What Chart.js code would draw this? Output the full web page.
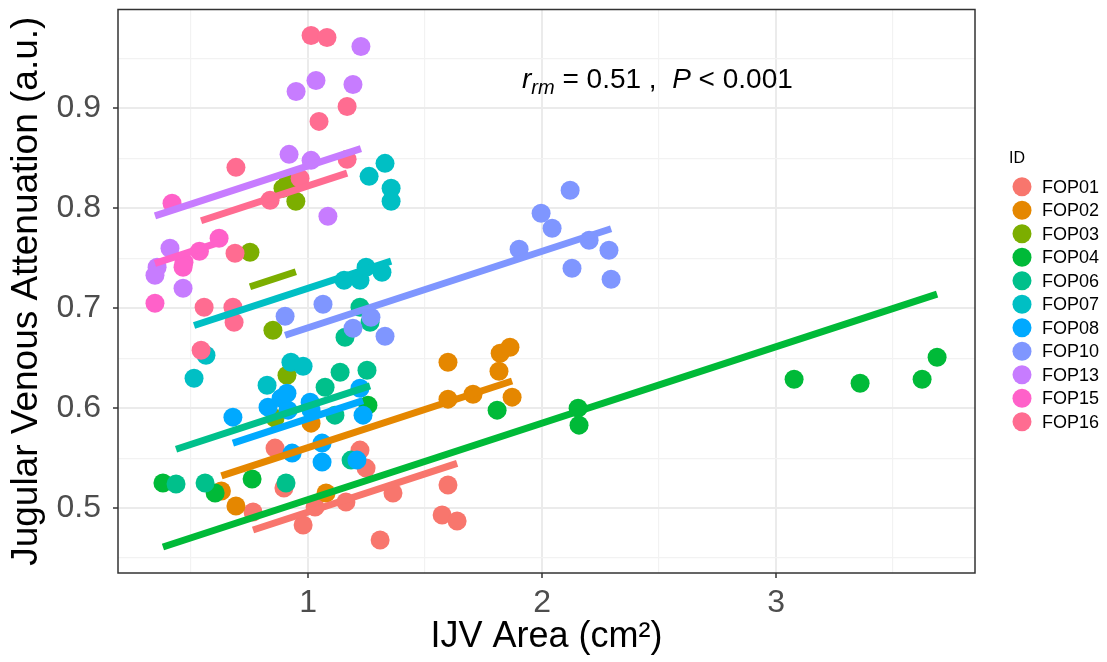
<!DOCTYPE html>
<html>
<head>
<meta charset="utf-8">
<script src="https://cdn.jsdelivr.net/npm/chart.js@4.4.1/dist/chart.umd.min.js"></script>
<style>
  html, body { margin: 0; padding: 0; background: #fff; }
</style>
</head>
<body>
<canvas id="chart" width="1107" height="662"></canvas>
<script>
// subjects and their colours
const ids = ["FOP01", "FOP02", "FOP03", "FOP04", "FOP06", "FOP07", "FOP08", "FOP10", "FOP13", "FOP15", "FOP16"];
const palette = ["#F8766D", "#E58700", "#7CAE00", "#00BA38", "#00C08B", "#00BFC4", "#00A9FF", "#7F96FF", "#C77CFF", "#FF61C9", "#FF6C91"];

// [IJV area (cm²), attenuation (a.u.)] per subject
const fop01 = [[0.859, 0.560], [0.897, 0.520], [0.765, 0.496], [0.979, 0.483], [1.030, 0.501], [1.162, 0.506], [1.222, 0.558], [1.248, 0.540], [1.363, 0.515], [1.308, 0.468], [1.598, 0.523], [1.573, 0.493], [1.637, 0.487]];
const fop02 = [[0.630, 0.517], [0.692, 0.502], [1.013, 0.585], [1.077, 0.515], [1.598, 0.646], [1.821, 0.655], [1.863, 0.661], [1.816, 0.637], [1.872, 0.611], [1.598, 0.609], [1.705, 0.614]];
const fop03 = [[0.893, 0.820], [0.915, 0.826], [0.948, 0.807], [0.752, 0.756], [0.850, 0.678], [0.910, 0.633], [0.859, 0.590]];
const fop04 = [[0.380, 0.525], [0.603, 0.515], [0.761, 0.529], [1.256, 0.603], [1.808, 0.598], [2.154, 0.600], [2.158, 0.583], [3.077, 0.629], [3.359, 0.625], [3.624, 0.629], [3.688, 0.651]];
const fop06 = [[0.436, 0.524], [0.560, 0.525], [0.906, 0.525], [1.184, 0.548], [1.222, 0.701], [1.158, 0.671], [1.265, 0.686], [1.137, 0.636], [1.252, 0.638], [1.073, 0.621], [1.115, 0.593]];
const fop07 = [[1.329, 0.845], [1.261, 0.832], [1.355, 0.820], [1.355, 0.807], [1.154, 0.728], [1.222, 0.728], [1.248, 0.741], [1.316, 0.736], [0.564, 0.653], [0.513, 0.630], [0.927, 0.646], [0.979, 0.642], [0.825, 0.623]];
const fop08 = [[0.679, 0.591], [0.829, 0.601], [0.885, 0.610], [0.915, 0.598], [0.910, 0.615], [1.009, 0.606], [1.013, 0.598], [1.222, 0.620], [1.235, 0.593], [1.060, 0.565], [0.932, 0.555], [1.060, 0.546], [1.209, 0.548]];
const fop10 = [[0.902, 0.692], [1.064, 0.704], [1.192, 0.680], [1.269, 0.691], [1.329, 0.672], [1.996, 0.795], [2.043, 0.780], [2.120, 0.818], [1.902, 0.759], [2.201, 0.768], [2.286, 0.758], [2.128, 0.740], [2.295, 0.729]];
const fop13 = [[1.226, 0.962], [1.034, 0.928], [0.949, 0.917], [1.192, 0.924], [0.919, 0.854], [1.013, 0.848], [1.085, 0.792], [0.410, 0.760], [0.355, 0.741], [0.346, 0.733], [0.466, 0.720]];
const fop15 = [[0.419, 0.805], [0.620, 0.770], [0.536, 0.757], [0.470, 0.746], [0.466, 0.741], [0.346, 0.705]];
const fop16 = [[1.013, 0.973], [1.081, 0.971], [1.167, 0.902], [1.047, 0.887], [1.167, 0.849], [0.692, 0.841], [0.966, 0.830], [0.838, 0.808], [0.688, 0.755], [0.556, 0.701], [0.679, 0.701], [0.684, 0.686], [0.543, 0.658]];
const subjects = [fop01, fop02, fop03, fop04, fop06, fop07, fop08, fop10, fop13, fop15, fop16];

// repeated-measures fit: one shared slope, an intercept per subject
const rmSlope = 0.0765;
const intercepts = [0.4195, 0.484, 0.664, 0.432, 0.5255, 0.6435, 0.513, 0.604, 0.766, 0.7185, 0.746];

// axes
const xTicks = [0.5, 1, 1.5, 2, 2.5, 3, 3.5];
const yTicks = [0.45, 0.5, 0.55, 0.6, 0.65, 0.7, 0.75, 0.8, 0.85, 0.9, 0.95];

const FONT = "'Liberation Sans', Arial, Helvetica, sans-serif";
const isMajorX = (v) => Math.abs(v - Math.round(v)) < 1e-6;
const isMajorY = (v) => Math.round(v * 100) % 10 === 0;

const pointSets = subjects.map((pts, i) => ({
	label: ids[i],
	data: pts.map(([x, y]) => ({ x, y })),
	backgroundColor: palette[i],
	borderWidth: 0,
	pointRadius: 9.5,
	pointHoverRadius: 9.5,
	order: 100 - i,
}));

const fitSets = subjects.map((pts, i) => {
	const xs = pts.map((p) => p[0]);
	const x0 = Math.min(...xs);
	const x1 = Math.max(...xs);
	return {
		label: ids[i] + " fit",
		data: [x0, x1].map((x) => ({ x, y: intercepts[i] + rmSlope * x })),
		showLine: true,
		borderColor: palette[i],
		borderWidth: 7,
		borderCapStyle: "butt",
		pointRadius: 0,
		order: 20 - i,
	};
});

// panel border, r_rm label and the ID legend
const decorations = {
	id: "decorations",
	afterDatasetsDraw(chart) {
		const { ctx, chartArea: a } = chart;
		ctx.save();
		ctx.strokeStyle = "#333333";
		ctx.lineWidth = 1.5;
		ctx.strokeRect(a.left, a.top, a.right - a.left, a.bottom - a.top);

		// r_rm = 0.51 , P < 0.001
		let x = 522;
		const base = 88;
		ctx.fillStyle = "#000";
		ctx.textBaseline = "alphabetic";
		ctx.textAlign = "left";
		const put = (txt, font, dy = 0) => {
			ctx.font = font;
			ctx.fillText(txt, x, base + dy);
			x += ctx.measureText(txt).width;
		};
		put("r", "italic 28px " + FONT);
		put("rm", "italic 20px " + FONT, 6);
		put(" = 0.51 ,  ", "28px " + FONT);
		put("P", "italic 28px " + FONT);
		put(" < 0.001", "28px " + FONT);

		// legend
		ctx.font = "16px " + FONT;
		ctx.textBaseline = "middle";
		ctx.fillText("ID", 1009, 159);
		ctx.font = "18px " + FONT;
		ids.forEach((id, i) => {
			const cy = 186.7 + i * 23.5;
			ctx.beginPath();
			ctx.arc(1022, cy, 9.5, 0, Math.PI * 2);
			ctx.fillStyle = palette[i];
			ctx.fill();
			ctx.fillStyle = "#000";
			ctx.fillText(id, 1042, cy + 1);
		});
		ctx.restore();
	},
};

const gridColor = (major) => (major ? "#EBEBEB" : "#F2F2F2");

new Chart(document.getElementById("chart").getContext("2d"), {
	type: "scatter",
	data: { datasets: [...fitSets, ...pointSets] },
	options: {
		responsive: false,
		animation: false,
		layout: { padding: { top: 8, right: 132, left: 0, bottom: 0 } },
		plugins: {
			legend: { display: false },
			tooltip: { enabled: false },
		},
		scales: {
			x: {
				type: "linear",
				min: 0.188,
				max: 3.85,
				afterBuildTicks: (s) => {
					s.ticks = xTicks.map((v) => ({ value: v }));
				},
				afterFit: (s) => {
					s.height = 89;
					s.paddingLeft = 0;
					s.paddingRight = 0;
				},
				ticks: {
					autoSkip: false,
					maxRotation: 0,
					padding: 6,
					color: "#4D4D4D",
					font: { family: FONT, size: 32 },
					callback: (v) => (isMajorX(v) ? String(v) : ""),
				},
				grid: {
					color: (c) => gridColor(isMajorX(c.tick.value)),
					lineWidth: (c) => (isMajorX(c.tick.value) ? 2 : 1.2),
					tickColor: (c) => (isMajorX(c.tick.value) ? "#333333" : "rgba(0,0,0,0)"),
					tickLength: 5,
					tickWidth: 1.5,
				},
				border: { display: false },
				title: {
					display: true,
					text: "IJV Area (cm²)",
					color: "#000",
					font: { family: FONT, size: 36 },
					padding: { top: 0, bottom: 3 },
				},
			},
			y: {
				type: "linear",
				min: 0.435,
				max: 0.999,
				afterBuildTicks: (s) => {
					s.ticks = yTicks.map((v) => ({ value: v }));
				},
				afterFit: (s) => {
					s.width = 118;
					s.paddingTop = 0;
					s.paddingBottom = 0;
				},
				ticks: {
					padding: 12,
					color: "#4D4D4D",
					font: { family: FONT, size: 32 },
					callback: (v) => (isMajorY(v) ? v.toFixed(1) : ""),
				},
				grid: {
					color: (c) => gridColor(isMajorY(c.tick.value)),
					lineWidth: (c) => (isMajorY(c.tick.value) ? 2 : 1.2),
					tickColor: (c) => (isMajorY(c.tick.value) ? "#333333" : "rgba(0,0,0,0)"),
					tickLength: 5,
					tickWidth: 1.5,
				},
				border: { display: false },
				title: {
					display: true,
					text: "Jugular Venous Attenuation (a.u.)",
					color: "#000",
					font: { family: FONT, size: 37 },
					padding: { top: 5, bottom: 0 },
				},
			},
		},
	},
	plugins: [decorations],
});
</script>
</body>
</html>
